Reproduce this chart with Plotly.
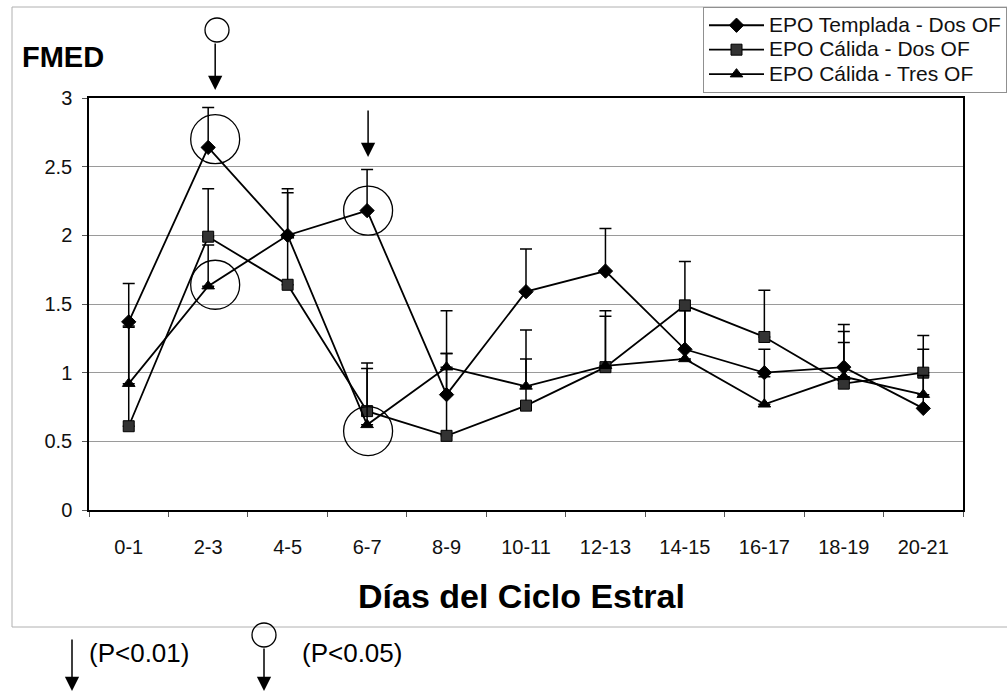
import plotly.graph_objects as go

# ---------------- data ----------------
categories = ["0-1", "2-3", "4-5", "6-7", "8-9", "10-11", "12-13", "14-15", "16-17", "18-19", "20-21"]

templada_name = "EPO Templada - Dos OF"
templada_vals = [1.37, 2.64, 2.00, 2.18, 0.84, 1.59, 1.74, 1.17, 1.00, 1.04, 0.74]
templada_err = [0.28, 0.29, 0.34, 0.30, 0.61, 0.31, 0.31, 0.30, 0.17, 0.26, 0.43]

calida2_name = "EPO Cálida - Dos OF"
calida2_vals = [0.61, 1.99, 1.64, 0.72, 0.54, 0.76, 1.04, 1.49, 1.26, 0.92, 1.00]
calida2_err = [0.72, 0.35, 0.36, 0.35, 0.60, 0.55, 0.41, 0.32, 0.34, 0.30, 0.27]

calida3_name = "EPO Cálida - Tres OF"
calida3_vals = [0.92, 1.63, 2.00, 0.62, 1.04, 0.90, 1.05, 1.10, 0.77, 0.97, 0.84]
calida3_err = [0.42, 0.30, 0.31, 0.41, 0.10, 0.20, 0.36, 0.35, 0.20, 0.38, 0.14]

y_ticks = [0, 0.5, 1, 1.5, 2, 2.5, 3]
y_tick_labels = ["0", "0.5", "1", "1.5", "2", "2.5", "3"]

# significance marks (circles around points, arrows above)
circle_cats = ["2-3", "2-3", "6-7", "6-7"]
circle_vals = [2.70, 1.64, 2.18, 0.575]
arrow_cats = ["2-3", "6-7"]

y_title = "FMED"
x_title = "Días del Ciclo Estral"
note_p01 = "(P<0.01)"
note_p05 = "(P<0.05)"

# ---------------- layout helpers ----------------
W, H = 1007, 692
L, R, T, B = 89, 963, 98, 510  # plot area in pixels


def xp(px):
    return (px - L) / (R - L)


def yp(py):
    return (B - py) / (B - T)


FONT = "Liberation Sans, Arial, sans-serif"
ARROW = dict(arrowhead=2, arrowsize=1.9, arrowwidth=1.5, arrowcolor="black")


def legend_label(name):
    return '<span style="font-size:21px">%s</span>' % name


fig = go.Figure()

series = [
    (templada_name, templada_vals, templada_err, "diamond", 11, "black"),
    (calida2_name, calida2_vals, calida2_err, "square", 11, "#333333"),
    (calida3_name, calida3_vals, calida3_err, "triangle-up", 11, "black"),
]
for name, vals, err, sym, size, col in series:
    fig.add_trace(go.Scatter(
        x=categories, y=vals, name=legend_label(name), mode="lines+markers",
        line=dict(color="black", width=1.8),
        marker=dict(symbol=sym, size=size, color=col, line=dict(color="black", width=1)),
        error_y=dict(type="data", array=err, arrayminus=[0] * len(err), symmetric=False,
                     color="black", thickness=1.5, width=6),
    ))

shapes = []
# outer chart border
shapes.append(dict(type="rect", xref="paper", yref="paper",
                   x0=xp(12), x1=xp(1012), y0=yp(627), y1=yp(7),
                   line=dict(color="#b0b0b0", width=1), layer="below"))

# circles around significant points
offsets = {"2-3": 7, "6-7": 1}
for c, v in zip(circle_cats, circle_vals):
    i = categories.index(c)
    dx = offsets[c]
    shapes.append(dict(type="circle", xref="x", yref="y", xsizemode="pixel", ysizemode="pixel",
                       xanchor=i, yanchor=v, x0=dx - 24.5, x1=dx + 24.5, y0=-24.5, y1=24.5,
                       line=dict(color="black", width=1.3)))

# small circle above the first arrow (P<0.05 mark)
shapes.append(dict(type="circle", xref="paper", yref="paper",
                   x0=xp(205), x1=xp(229), y0=yp(42), y1=yp(18),
                   line=dict(color="black", width=1.3)))

# legend-note circle at the bottom
shapes.append(dict(type="circle", xref="paper", yref="paper",
                   x0=xp(252), x1=xp(276), y0=yp(647), y1=yp(623),
                   line=dict(color="black", width=1.3)))

annotations = []
# arrows above points
i23 = categories.index(arrow_cats[0])
annotations.append(dict(x=i23, y=3, xref="x", yref="y", text="", showarrow=True,
                        ax=0, ay=-48, xshift=7, yshift=8, **ARROW))
i67 = categories.index(arrow_cats[1])
annotations.append(dict(x=i67, y=2.57, xref="x", yref="y", text="", showarrow=True,
                        ax=0, ay=-48, xshift=1, **ARROW))

# bottom notes
annotations.append(dict(x=xp(72), y=yp(692), xref="paper", yref="paper", text="", showarrow=True,
                        ax=0, ay=-54, **ARROW))
annotations.append(dict(x=xp(264), y=yp(692), xref="paper", yref="paper", text="", showarrow=True,
                        ax=0, ay=-45, **ARROW))
annotations.append(dict(x=xp(87), y=yp(653), xref="paper", yref="paper", text=note_p01,
                        showarrow=False, xanchor="left", yanchor="middle",
                        font=dict(family=FONT, size=26, color="black")))
annotations.append(dict(x=xp(300), y=yp(653), xref="paper", yref="paper", text=note_p05,
                        showarrow=False, xanchor="left", yanchor="middle",
                        font=dict(family=FONT, size=26, color="black")))

# axis titles
annotations.append(dict(x=xp(20), y=yp(57), xref="paper", yref="paper", text="<b>%s</b>" % y_title,
                        showarrow=False, xanchor="left", yanchor="middle",
                        font=dict(family=FONT, size=29, color="black")))
annotations.append(dict(x=xp(521), y=yp(596), xref="paper", yref="paper", text="<b>%s</b>" % x_title,
                        showarrow=False, xanchor="center", yanchor="middle",
                        font=dict(family=FONT, size=34, color="black")))

fig.update_layout(
    width=W, height=H, autosize=False,
    margin=dict(l=L, r=W - R, t=T, b=H - B, pad=0, autoexpand=False),
    paper_bgcolor="white", plot_bgcolor="white",
    font=dict(family=FONT, size=20, color="black"),
    showlegend=True,
    legend=dict(x=xp(703), y=yp(7), xanchor="left", yanchor="top",
                bgcolor="white", bordercolor="#909090", borderwidth=1,
                font=dict(family=FONT, size=16.5, color="#111111"),
                itemwidth=55, tracegroupgap=0, traceorder="normal"),
    shapes=shapes, annotations=annotations,
)

fig.update_xaxes(
    type="category", categoryorder="array", categoryarray=categories,
    range=[-0.5, len(categories) - 0.5],
    showgrid=False, showline=True, linecolor="black", linewidth=1.5, mirror=True,
    ticks="outside", tickson="boundaries", ticklen=5, tickcolor="#555555",
    ticklabelstandoff=18, tickfont=dict(family=FONT, size=20, color="#111111"),
    zeroline=False,
)
fig.update_yaxes(
    range=[0, 3], tickvals=y_ticks, ticktext=y_tick_labels,
    showgrid=True, gridcolor="#9a9a9a", gridwidth=1,
    showline=True, linecolor="black", linewidth=1.5, mirror=True,
    ticks="outside", ticklen=5, tickcolor="#555555",
    ticklabelstandoff=6, tickfont=dict(family=FONT, size=20, color="#111111"),
    zeroline=False,
)

fig.write_html("out.html", config={"displayModeBar": False},
               post_script="document.body.style.margin='0';document.body.style.overflow='hidden';")
